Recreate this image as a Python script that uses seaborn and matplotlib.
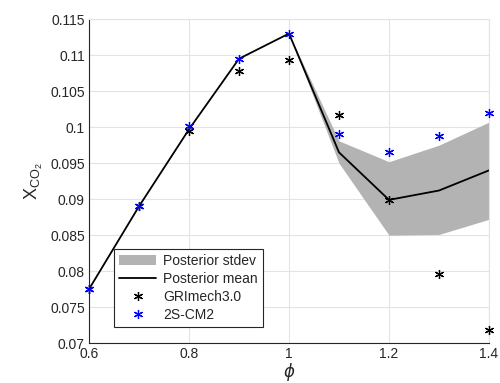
import matplotlib.pyplot as plt
import numpy as np
import seaborn as sns

# equivalence ratio and CO2 mole fractions
phi = [0.6, 0.7, 0.8, 0.9, 1.0, 1.1, 1.2, 1.3, 1.4]
post_mean = [0.0775, 0.0890, 0.0997, 0.1095, 0.1130, 0.0965, 0.0899, 0.0912, 0.0940]
post_lo = [0.0775, 0.0890, 0.0997, 0.1095, 0.1130, 0.0950, 0.0850, 0.0851, 0.0872]
post_hi = [0.0775, 0.0890, 0.0997, 0.1095, 0.1130, 0.0981, 0.0952, 0.0975, 0.1007]
gri = [0.0775, 0.0890, 0.0995, 0.1078, 0.1093, 0.1017, 0.0899, 0.0796, 0.0718]
s2cm2 = [0.0775, 0.0890, 0.1001, 0.1095, 0.1130, 0.0991, 0.0966, 0.0988, 0.1019]

sns.set_style("whitegrid", {"grid.color": "#e3e3e3",
                            "axes.edgecolor": "#262626",
                            "xtick.direction": "in",
                            "ytick.direction": "in"})
plt.rcParams["font.family"] = ["Liberation Sans", "DejaVu Sans"]
plt.rcParams["mathtext.fontset"] = "custom"
plt.rcParams["mathtext.rm"] = "Liberation Sans"

fig = plt.figure(figsize=(5, 3.83), dpi=100)
ax = fig.add_axes([0.178, 0.104, 0.800, 0.846])

# band and mean line
ax.fill_between(phi, post_lo, post_hi, color="#b3b3b3", lw=0, label="Posterior stdev")
sns.lineplot(x=phi, y=post_mean, color="black", lw=1.3, ax=ax, label="Posterior mean")

# model predictions as asterisks
star = (6, 2, 0)
ax.plot(phi, gri, ls="none", marker=star, ms=6.5, mew=0.9, color="black",
        label="GRImech3.0", clip_on=False, zorder=5)
ax.plot(phi, s2cm2, ls="none", marker=star, ms=6.5, mew=0.9, color="blue",
        label="2S-CM2", clip_on=False, zorder=5)

ax.set_xlim(0.6, 1.4)
ax.set_ylim(0.07, 0.115)
ax.set_xticks(np.arange(0.6, 1.41, 0.2))
ax.set_xticklabels(["0.6", "0.8", "1", "1.2", "1.4"])
ax.set_yticks(np.arange(0.07, 0.1151, 0.005))
ax.set_yticklabels(["0.07", "0.075", "0.08", "0.085", "0.09", "0.095",
                    "0.1", "0.105", "0.11", "0.115"])
ax.tick_params(labelsize=10, length=3, width=0.6, colors="#262626", pad=3)
ax.grid(True, color="#e3e3e3", lw=0.8)

# matlab-ish box: only left and bottom dark
ax.spines["top"].set_color("#e3e3e3")
ax.spines["right"].set_color("#e3e3e3")
ax.spines["left"].set_linewidth(0.8)
ax.spines["bottom"].set_linewidth(0.8)

ax.set_xlabel(r"$\phi$", fontsize=12, labelpad=0)
ax.set_ylabel(r"X$_{\mathrm{CO}_{2}}$", fontsize=13, labelpad=4)

leg = ax.legend(loc="lower left", bbox_to_anchor=(0.045, 0.03), fontsize=10,
                frameon=True, fancybox=False, edgecolor="#262626",
                framealpha=1, borderpad=0.35, labelspacing=0.28,
                handlelength=2.7, handletextpad=0.5)
leg.get_frame().set_linewidth(0.8)

fig.savefig("out.png", dpi=100)
